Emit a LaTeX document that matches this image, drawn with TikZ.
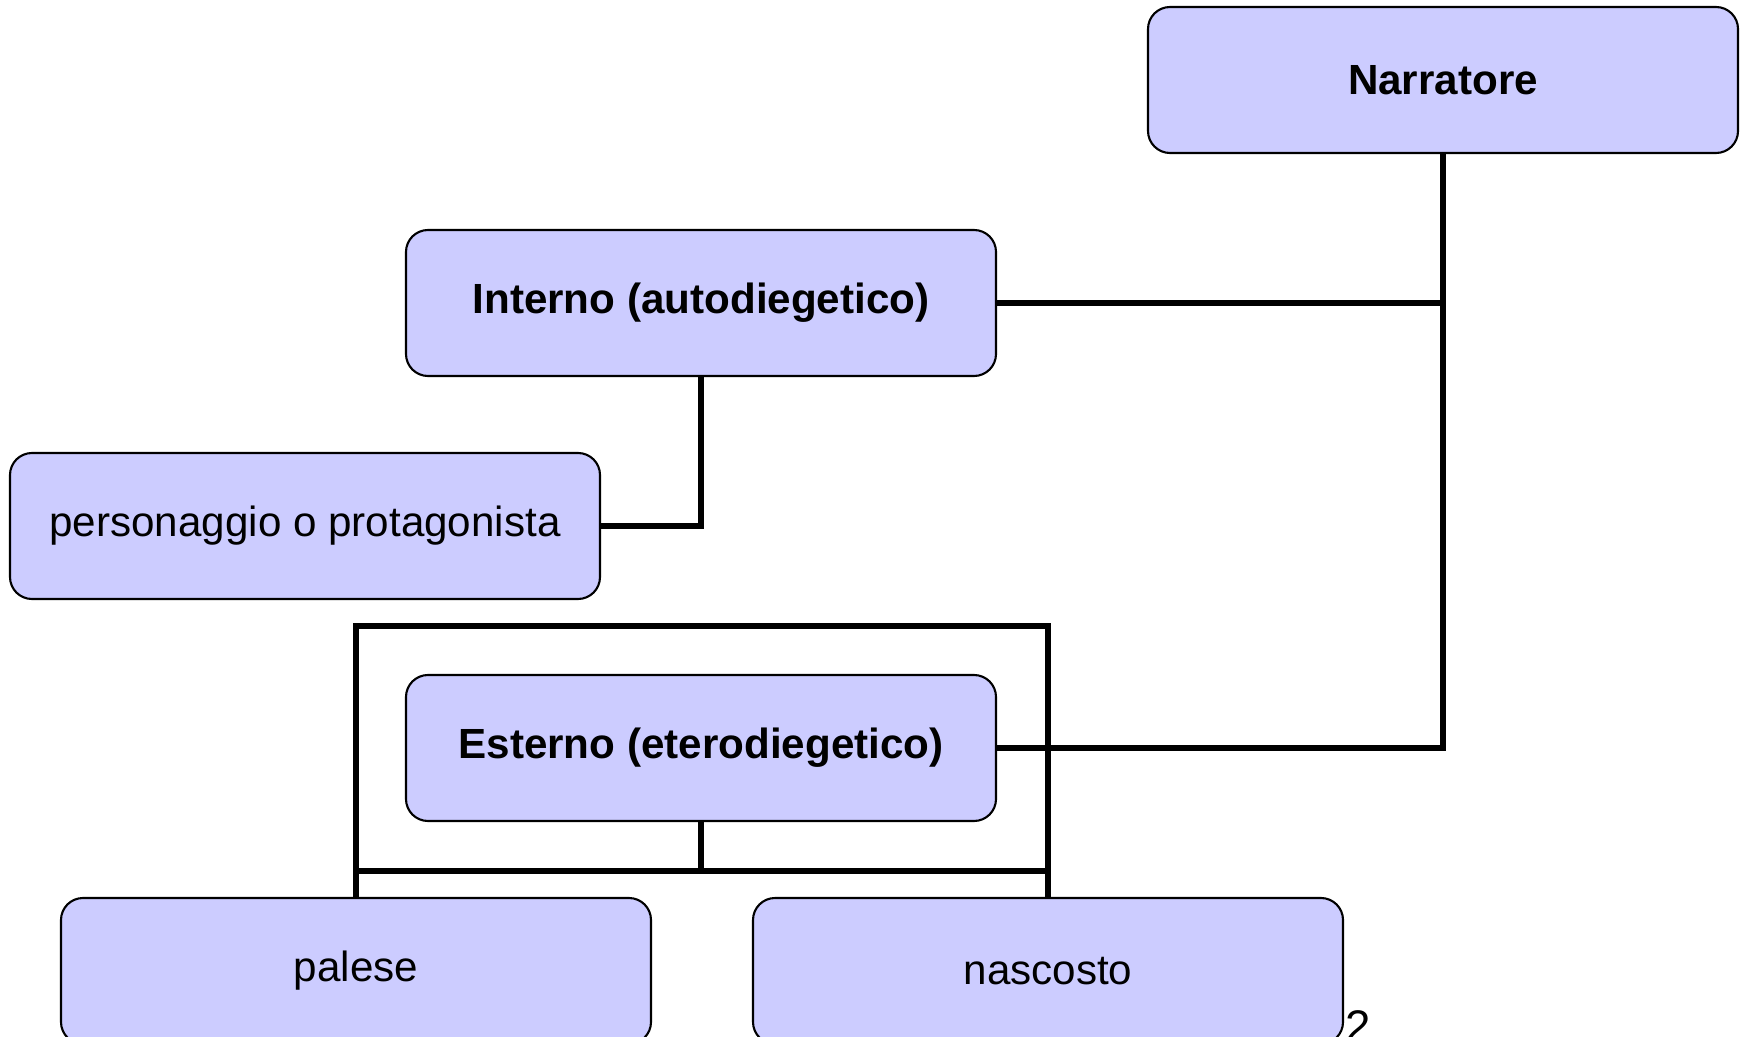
\documentclass[tikz,border=0pt]{standalone}
\usepackage{fontspec}
\setmainfont{Liberation Sans}
\usepackage{tikz}
\usetikzlibrary{positioning}

\definecolor{boxfill}{HTML}{CCCCFF}
\tikzset{
  entry/.style={draw=black, line width=0.6pt, fill=boxfill, rounded corners=0.22cm,
    minimum width=5.90cm, minimum height=1.46cm, inner sep=0pt, font=\fontsize{12}{14}\selectfont},
  link/.style={draw=black, line width=1.9pt}
}

\begin{document}
\begin{tikzpicture}
    \useasboundingbox (0,0) rectangle (17.44,-10.37);
    % page number, partly behind the last box
    \node[anchor=north east, inner sep=0pt, font=\fontsize{13}{15}\selectfont] (pagenum) at (13.72,-10.10) {12};

    \node[entry] (narr)    at (14.43,-0.80) {\textbf{Narratore}};
    \node[entry] (interno) at (7.01,-3.03)  {\textbf{Interno (autodiegetico)}};
    \node[entry] (perso)   at (3.05,-5.26)  {personaggio o protagonista};
    \node[entry] (esterno) at (7.01,-7.48)  {\textbf{Esterno (eterodiegetico)}};
    \coordinate (frame) at (0,-6.26);
    \coordinate (bus)   at (0,-8.71);

    \draw[link] (interno.east) -| (narr.south);
    \draw[link] (narr.south) |- (esterno.east);
    \draw[link] (interno.south) |- (perso.east);
    \draw[link] (esterno.south) -- (esterno.south |- bus);

    \node[entry] (palese) at (3.56,-9.71)  {palese};
    \node[entry] (nasc)   at (10.48,-9.71) {nascosto};

    \draw[link] (palese.north) -- (palese.north |- frame) -| (nasc.north);
    \draw[link] (palese.north |- bus) -- (nasc.north |- bus);
\end{tikzpicture}
\end{document}
